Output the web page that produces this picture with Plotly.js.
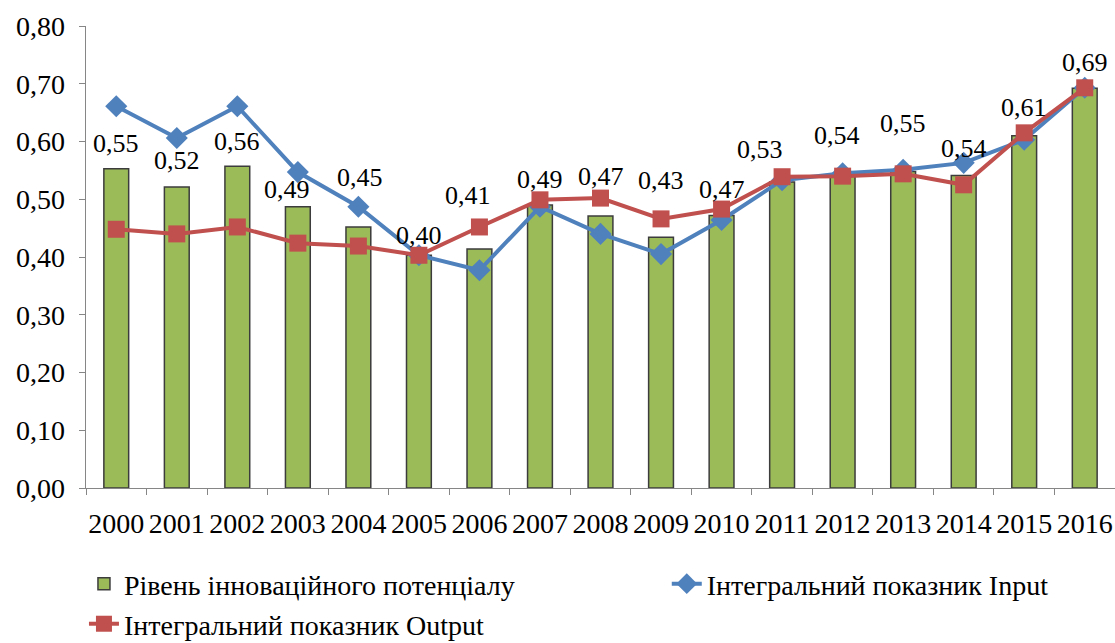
<!DOCTYPE html>
<html>
<head>
<meta charset="utf-8">
<script src="https://cdn.plot.ly/plotly-3.0.1.min.js"></script>
<style>html,body{margin:0;padding:0;background:#fff;}#chart{width:1115px;height:643px;}</style>
</head>
<body>
<div id="chart"></div>
<script>
const years = ['2000','2001','2002','2003','2004','2005','2006','2007','2008','2009','2010','2011','2012','2013','2014','2015','2016'];
const potential = [0.553,0.521,0.557,0.487,0.452,0.403,0.414,0.490,0.471,0.434,0.472,0.530,0.540,0.548,0.541,0.610,0.692];
const inputIdx = [0.661,0.606,0.661,0.547,0.487,0.403,0.377,0.487,0.440,0.405,0.464,0.533,0.545,0.551,0.563,0.603,0.693];
const outputIdx = [0.448,0.440,0.452,0.424,0.419,0.403,0.452,0.499,0.502,0.466,0.483,0.539,0.540,0.544,0.525,0.615,0.693];
const yTickVals = [0,0.1,0.2,0.3,0.4,0.5,0.6,0.7,0.8];
const yTickText = ['0,00','0,10','0,20','0,30','0,40','0,50','0,60','0,70','0,80'];
const seriesNames = ['Рівень інноваційного потенціалу','Інтегральний показник Input','Інтегральний показник Output'];

// label placement offsets (styling, in pixels)
const labelYShift = [25,27,25,17,49,20,53,26,40,57,26,32,41,48,27,28,26];
const labelXShift = [0,0,0,-11,2,0,-11,0,0,0,0,-22,-6,0,0,0,0];

const FONT = '"Liberation Serif", "Times New Roman", Times, "DejaVu Serif", serif';
const fmt = v => v.toFixed(2).replace('.', ',');

const traces = [
  {type:'bar', x:years, y:potential, name:seriesNames[0], width:0.41,
   marker:{color:'#9BBB59', line:{color:'#3c3c3c', width:1.5}}, legend:'legend'},
  {type:'scatter', mode:'lines+markers', x:years, y:inputIdx, name:seriesNames[1],
   line:{color:'#4F81BD', width:4}, marker:{symbol:'diamond', size:17, color:'#4F81BD'}, legend:'legend3'},
  {type:'scatter', mode:'lines+markers', x:years, y:outputIdx, name:seriesNames[2],
   line:{color:'#C0504D', width:4}, marker:{symbol:'square', size:17, color:'#C0504D'}, legend:'legend2'}
];

// annotations on the category axis addressed by category index
const annotations = years.map((yr, i) => ({
  x: i, y: potential[i], xref:'x', yref:'y', text: fmt(potential[i]),
  showarrow:false, yanchor:'middle', xanchor:'center',
  yshift: labelYShift[i], xshift: labelXShift[i],
  font:{family:FONT, size:26, color:'#000'}
}));

const legendFont = {family:FONT, size:28, color:'#000'};
const layout = {
  width:1115, height:643,
  margin:{l:86, r:0, t:26, b:155},
  paper_bgcolor:'#fff', plot_bgcolor:'#fff',
  font:{family:FONT, size:28, color:'#000'},
  xaxis:{type:'category', range:[-0.5, years.length - 0.5], autorange:false,
         showline:true, linecolor:'#868686', linewidth:1.3,
         ticks:'outside', tickson:'boundaries', ticklen:6, tickcolor:'#868686',
         showgrid:false, zeroline:false, tickfont:{family:FONT, size:28, color:'#000'}, tickangle:0,
         ticklabelstandoff:10},
  yaxis:{range:[0,0.8], autorange:false, tickmode:'array', tickvals:yTickVals, ticktext:yTickText,
         showline:true, linecolor:'#868686', linewidth:1.3,
         ticks:'outside', ticklen:6, tickcolor:'#868686', showgrid:false, zeroline:false,
         tickfont:{family:FONT, size:28, color:'#000'}, ticklabelstandoff:8},
  showlegend:true,
  legend:{orientation:'h', xref:'container', yref:'container', x:0.0753, xanchor:'left', y:0.0918, yanchor:'middle',
          font:legendFont, bgcolor:'rgba(0,0,0,0)'},
  legend3:{orientation:'h', xref:'container', yref:'container', x:0.598, xanchor:'left', y:0.0918, yanchor:'middle',
          font:legendFont, bgcolor:'rgba(0,0,0,0)'},
  legend2:{orientation:'h', xref:'container', yref:'container', x:0.0753, xanchor:'left', y:0.0295, yanchor:'middle',
          font:legendFont, bgcolor:'rgba(0,0,0,0)'},
  annotations: annotations
};

Plotly.newPlot('chart', traces, layout, {displayModeBar:false, staticPlot:true});
</script>
</body>
</html>
